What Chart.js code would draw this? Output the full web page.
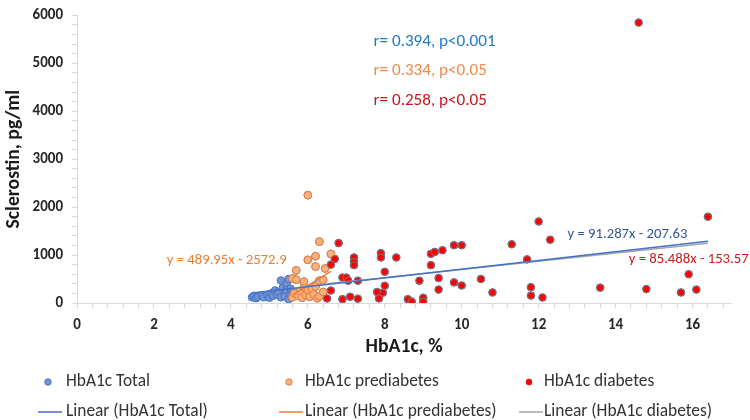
<!DOCTYPE html>
<html><head><meta charset="utf-8">
<script src="https://cdn.jsdelivr.net/npm/chart.js@4/dist/chart.umd.min.js"></script>
<style>html,body{margin:0;padding:0;background:#fff;}#c{display:block;}</style>
</head><body>
<canvas id="c" width="750" height="420"></canvas>
<script>
// ---- data ----
const normalHbA1c = [4.55,4.6,4.65,4.7,4.8,4.85,4.95,5.0,5.05,5.1,5.15,5.2,5.25,5.3,5.3,5.35,5.4,5.4,5.45,5.45,5.5,5.5,5.55,5.55,5.6];
const normalScl   = [120,150,100,130,160,120,170,110,200,150,260,180,230,470,120,320,200,140,400,270,500,80,300,180,230];

const preHbA1c = [5.6,5.7,5.7,5.6,5.65,5.75,5.8,5.85,5.9,5.9,5.95,6.0,6.0,6.0,6.05,6.1,6.15,6.2,6.2,6.2,6.25,6.3,6.3,6.3,6.4,6.45,6.4,6.6];
const preScl   = [510,485,680,120,200,150,250,110,330,445,170,900,2250,265,130,300,180,975,760,345,100,1280,465,140,480,720,230,1025];

const diaHbA1c = [6.8,6.7,6.6,7.2,7.2,7.2,6.9,7.0,7.05,7.3,6.6,6.5,6.9,7.1,7.3,7.9,7.9,8.3,8.0,8.0,7.95,7.8,7.85,8.6,8.7,8.9,9.0,9.0,9.2,9.2,9.3,9.5,9.4,9.4,9.8,10.0,9.8,10.0,10.5,10.8,11.3,11.7,11.8,11.8,12.1,12.0,12.3,13.6,14.8,15.7,15.9,16.1,16.4,14.6];
const diaScl   = [1250,920,800,950,860,790,530,530,465,465,260,95,80,130,90,1040,950,950,650,360,215,230,95,80,30,465,110,30,790,1025,1065,1100,520,280,1205,1205,430,365,500,220,1225,910,330,155,115,1700,1320,320,290,220,600,280,1800,5850];

const seriesNames = ['HbA1c Total','HbA1c prediabetes','HbA1c diabetes'];
const trendNames  = ['Linear (HbA1c Total)','Linear (HbA1c prediabetes)','Linear (HbA1c diabetes)'];
const trendSlopes     = [91.287, 489.95, 85.488];
const trendIntercepts = [-207.63, -2572.9, -153.57];
const trendLabels = ['y = 91.287x - 207.63','y = 489.95x - 2572.9','y = 85.488x - 153.57'];
const corrLabels  = ['r= 0.394, p<0.001','r= 0.334, p<0.05','r= 0.258, p<0.05'];
const xTickLabels = [0,2,4,6,8,10,12,14,16];
const yTickLabels = [0,1000,2000,3000,4000,5000,6000];

// ---- fonts sized to the reference text widths ----
const F = 'Carlito, Lato, "Open Sans", sans-serif';
const mctx = document.createElement('canvas').getContext('2d');
function fitSize(text, weight, target) {
  mctx.font = weight + ' 100px ' + F;
  return 100 * target / mctx.measureText(text).width;
}
const titleSize  = fitSize('HbA1c, %', 'bold', 77);
const legendSize = fitSize(trendNames[0], 'normal', 142);
const corrSize   = fitSize(corrLabels[0], 'normal', 122);
const eqSize     = fitSize(trendLabels[0], 'normal', 120);

// ---- build library structures ----
const pts = (xs, ys) => xs.map((x,i)=>({x, y: ys[i]}));
const totalX = normalHbA1c.concat(preHbA1c, diaHbA1c);
const totalY = normalScl.concat(preScl, diaScl);
const groups = [[totalX,totalY],[preHbA1c,preScl],[diaHbA1c,diaScl]];
const trend = (k) => {
  const xs = groups[k][0];
  const a = Math.min(...xs), b = Math.max(...xs);
  return [a,b].map(x=>({x, y: trendSlopes[k]*x + trendIntercepts[k]}));
};

const ptStyle = [
  {bg:'#7393D6', bd:'#4472C4'},
  {bg:'#F4B183', bd:'#ED7D31'},
  {bg:'#FF0000', bd:'#8A7070'}
];
const lineColors = ['#4472C4','#ED7D31','#A5A5A5'];

const datasets = [
  {label: trendNames[0], data: trend(0), showLine:true, pointRadius:0, borderColor:lineColors[0], borderWidth:1.5, order:0},
  {label: trendNames[2], data: trend(2), showLine:true, pointRadius:0, borderColor:lineColors[2], borderWidth:1.5, order:1},
  {label: trendNames[1], data: trend(1), showLine:true, pointRadius:0, borderColor:lineColors[1], borderWidth:1.5, order:2},
  {label: seriesNames[2], data: pts(diaHbA1c, diaScl), pointRadius:3.5, backgroundColor:ptStyle[2].bg, borderColor:ptStyle[2].bd, borderWidth:1, order:3},
  {label: seriesNames[1], data: pts(preHbA1c, preScl), pointRadius:3.8, backgroundColor:ptStyle[1].bg, borderColor:ptStyle[1].bd, borderWidth:1, order:4},
  {label: seriesNames[0], data: pts(totalX, totalY), pointRadius:3.8, backgroundColor:ptStyle[0].bg, borderColor:ptStyle[0].bd, borderWidth:1, order:5}
];

const near = (arr, v) => arr.some(t => Math.abs(t - v) < 1e-6);

const overlay = {
  id: 'overlay',
  afterDraw(chart) {
    const ctx = chart.ctx, xs = chart.scales.x, ys = chart.scales.y;
    ctx.save();
    ctx.textBaseline = 'middle';
    // correlation labels (placed in data coordinates)
    const corrColors = ['#2479C6','#F08A4B','#C8141B'];
    const corrY = [5455, 4845, 4220];
    ctx.font = corrSize.toFixed(2) + 'px ' + F;
    ctx.textAlign = 'left';
    corrLabels.forEach((t,i)=>{
      ctx.fillStyle = corrColors[i];
      ctx.fillText(t, xs.getPixelForValue(7.71), ys.getPixelForValue(corrY[i]));
    });
    // trendline equations
    ctx.font = eqSize.toFixed(2) + 'px ' + F;
    ctx.fillStyle = '#2F5597';
    ctx.fillText(trendLabels[0], xs.getPixelForValue(12.75), ys.getPixelForValue(1435));
    ctx.fillStyle = '#CC1A1A';
    ctx.fillText(trendLabels[2], xs.getPixelForValue(14.34), ys.getPixelForValue(910));
    ctx.fillStyle = '#ED7D31';
    ctx.textAlign = 'right';
    ctx.fillText(trendLabels[1], xs.getPixelForValue(5.45), ys.getPixelForValue(890));

    // legend
    ctx.textAlign = 'left';
    ctx.font = legendSize.toFixed(2) + 'px ' + F;
    const colX = [48, 289, 529];
    const textX = [66, 305, 544];
    const row1 = 382, row2 = 412;
    for (let i=0;i<3;i++){
      ctx.beginPath();
      ctx.arc(colX[i], row1, 3.2, 0, Math.PI*2);
      ctx.fillStyle = ptStyle[i].bg; ctx.fill();
      if (i<2){ ctx.strokeStyle = ptStyle[i].bd; ctx.lineWidth = 1; ctx.stroke(); }
      ctx.fillStyle = '#333333';
      ctx.fillText(seriesNames[i], textX[i], row1);
      ctx.beginPath();
      ctx.moveTo(colX[i]-10, row2); ctx.lineTo(colX[i]+14, row2);
      ctx.strokeStyle = lineColors[i]; ctx.lineWidth = 1.5; ctx.stroke();
      ctx.fillStyle = '#333333';
      ctx.fillText(trendNames[i], textX[i], row2);
    }
    ctx.restore();
  }
};

const titleLH = titleSize * 1.2;
new Chart(document.getElementById('c'), {
  type: 'scatter',
  data: { datasets },
  options: {
    responsive: false, animation: false, devicePixelRatio: 1,
    layout: { padding: { top: 6, right: 19, bottom: 63, left: 0 } },
    plugins: { legend: { display: false }, tooltip: { enabled: false } },
    scales: {
      x: {
        type: 'linear', position: 'bottom', min: 0, max: 17,
        afterFit(s){ s.height = 54; },
        ticks: { stepSize: 0.4, autoSkip: false, includeBounds: false, maxRotation: 0, padding: 8,
          color: '#262626', font: { family: F, size: 15, weight: 'bold' },
          callback: v => near(xTickLabels, v) ? String(Math.round(v)) : '' },
        grid: { drawOnChartArea: false, drawTicks: true, tickLength: 5, color: '#D9D9D9' },
        border: { color: '#D9D9D9', width: 1 },
        title: { display: true, text: 'HbA1c, %', color: '#1a1a1a',
          font: { family: F, size: titleSize, weight: 'bold' }, padding: { top: 0, bottom: 54 - 44 - titleLH/2 } }
      },
      y: {
        type: 'linear', min: 0, max: 6000,
        afterFit(s){ s.width = 77; },
        ticks: { stepSize: 200, autoSkip: false, padding: 9,
          color: '#262626', font: { family: F, size: 15, weight: 'bold', lineHeight: 0.85 },
          callback: v => near(yTickLabels, v) ? String(v) : '' },
        grid: { drawOnChartArea: false, drawTicks: true, tickLength: 5, color: '#D9D9D9' },
        border: { color: '#D9D9D9', width: 1 },
        title: { display: true, text: 'Sclerostin, pg/ml', color: '#1a1a1a',
          font: { family: F, size: titleSize, weight: 'bold' }, padding: { top: 14 - titleLH/2, bottom: 0 } }
      }
    }
  },
  plugins: [overlay]
});
</script>
</body></html>
